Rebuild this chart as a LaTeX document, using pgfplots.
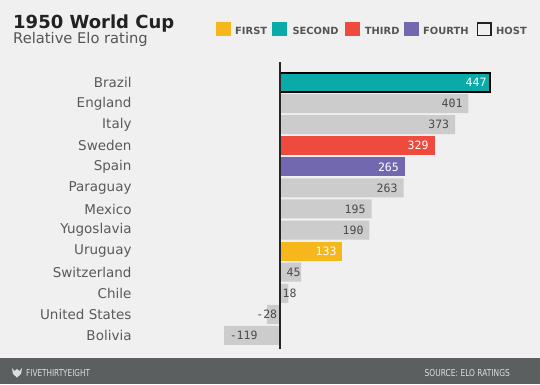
\documentclass[border=0pt]{standalone}
\usepackage{pgfplots}
\pgfplotsset{compat=1.18}
\usepackage{fontspec}
\setmainfont{DejaVu Sans}
\newfontfamily\monofont{DejaVu Sans Mono}
\definecolor{bgc}{HTML}{F0F0F0}
\definecolor{footc}{HTML}{5B5F60}
\definecolor{grayb}{HTML}{CCCCCC}
\definecolor{tealb}{HTML}{0AAAA8}
\definecolor{redb}{HTML}{EE4B3E}
\definecolor{purpb}{HTML}{7268B0}
\definecolor{yelb}{HTML}{F5B71B}
\definecolor{titlec}{HTML}{222222}
\definecolor{subc}{HTML}{555555}
\definecolor{labc}{HTML}{5A5A5A}
\definecolor{valc}{HTML}{4A4A4A}
\definecolor{foott}{HTML}{DDDDDD}
\begin{document}
\begin{tikzpicture}
\fill[bgc] (0pt,0pt) rectangle (540pt,384pt);
\fill[footc] (0pt,0pt) rectangle (540pt,25.7pt);
\node[anchor=base west, inner sep=0pt, text=titlec, font=\fontsize{18}{20}\selectfont\bfseries] at (13pt,355.5pt) {1950 World Cup};
\node[anchor=base west, inner sep=0pt, text=subc, font=\fontsize{14.7}{16}\selectfont] at (13pt,340.5pt) {Relative Elo rating};
% legend
\fill[yelb] (215.7pt,347.7pt) rectangle ++(15pt,14pt);
\node[anchor=base west, inner sep=0pt, text=subc, font=\fontsize{9.9}{11}\selectfont\bfseries] at (235pt,350pt) {FIRST};
\fill[tealb] (271.7pt,347.7pt) rectangle ++(15pt,14pt);
\node[anchor=base west, inner sep=0pt, text=subc, font=\fontsize{9.9}{11}\selectfont\bfseries] at (292.3pt,350pt) {SECOND};
\fill[redb] (345pt,347.7pt) rectangle ++(15pt,14pt);
\node[anchor=base west, inner sep=0pt, text=subc, font=\fontsize{9.9}{11}\selectfont\bfseries] at (364.7pt,350pt) {THIRD};
\fill[purpb] (404pt,347.7pt) rectangle ++(15pt,14pt);
\node[anchor=base west, inner sep=0pt, text=subc, font=\fontsize{9.9}{11}\selectfont\bfseries] at (423pt,350pt) {FOURTH};
\draw[titlec, line width=1.4pt] (477.4pt,348.4pt) rectangle ++(13.6pt,12.6pt);
\node[anchor=base west, inner sep=0pt, text=subc, font=\fontsize{9.9}{11}\selectfont\bfseries] at (496pt,350pt) {HOST};
% footer
\fill[foott] (12pt,16pt) -- (14.5pt,13pt) -- (17pt,15pt) -- (19.5pt,13pt) -- (22pt,16pt) -- (21pt,10pt) -- (17pt,6.5pt) -- (13pt,10pt) -- cycle;
\node[anchor=base west, inner sep=0pt, text=foott, font=\fontsize{9.6}{11}\selectfont] at (26pt,7.3pt) {\scalebox{0.76}[1]{FIVETHIRTYEIGHT}};
\node[anchor=base east, inner sep=0pt, text=foott, font=\fontsize{9.6}{11}\selectfont] at (510pt,7.3pt) {\scalebox{0.78}[1]{SOURCE: ELO RATINGS}};
\begin{axis}[
  at={(218.93pt,35.9pt)}, anchor=south west,
  scale only axis, width=281.88pt, height=284.58pt,
  xmin=-130, xmax=470, ymin=-0.9, ymax=12.6, y dir=reverse,
  axis line style={draw=none}, xtick=\empty,
  ytick={0,...,12},
  yticklabels={Brazil,England,Italy,Sweden,Spain,Paraguay,Mexico,Yugoslavia,Uruguay,Switzerland,Chile,United States,Bolivia},
  major tick length=0pt,
  yticklabel style={anchor=east, inner sep=0pt, xshift=-87.2pt, font=\fontsize{13.5}{15}\selectfont, text=labc},
  clip=false,
]
\addplot[xbar, bar width=19pt, bar shift=0pt, fill=grayb, draw=none] coordinates {
(401,1) (373,2) (263,5) (195,6) (190,7) (45,9) (18,10) (-28,11) (-119,12)};
\addplot[xbar, bar width=19pt, bar shift=0pt, fill=tealb, draw=black, line width=1.2pt] coordinates {(447,0)};
\addplot[xbar, bar width=19pt, bar shift=0pt, fill=redb, draw=none] coordinates {(329,3)};
\addplot[xbar, bar width=19pt, bar shift=0pt, fill=purpb, draw=none] coordinates {(265,4)};
\addplot[xbar, bar width=19pt, bar shift=0pt, fill=yelb, draw=none] coordinates {(133,8)};
\draw[black!85, line width=1.2pt] (axis cs:0,-0.95) -- (axis cs:0,12.62);
\addplot[draw=none, mark=none, nodes near coords, point meta=explicit symbolic,
  nodes near coords style={anchor=east, inner sep=0pt, text=valc, font=\monofont\fontsize{11.5}{13}\selectfont}]
  table[x=x, y=y, meta=lab] {
x y lab
388.8 1 401
360.5 2 373
250.5 5 263
182.3 6 195
178 7 190
44 9 45
35.5 10 18
-5.7 11 -28
-47.5 12 -119
};
\addplot[draw=none, mark=none, nodes near coords, point meta=explicit symbolic,
  nodes near coords style={anchor=east, inner sep=0pt, text=white, font=\monofont\fontsize{11.5}{13}\selectfont}]
  table[x=x, y=y, meta=lab] {
x y lab
440 0 447
316.5 3 329
253.3 4 265
120.6 8 133
};
\end{axis}
\end{tikzpicture}
\end{document}
